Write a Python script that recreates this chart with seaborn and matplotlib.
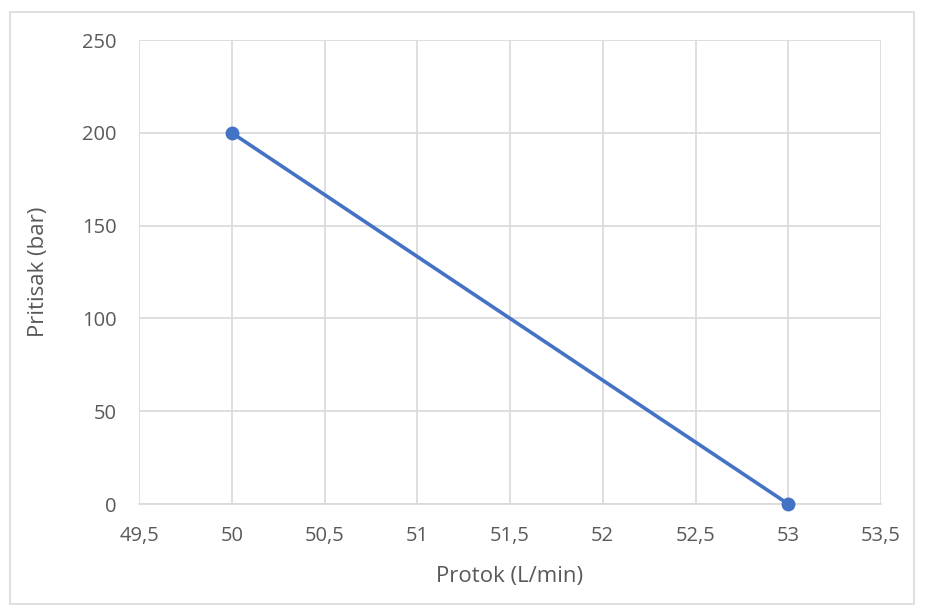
import matplotlib
matplotlib.use("Agg")
import matplotlib.pyplot as plt
import matplotlib.patches as patches
from matplotlib.ticker import FuncFormatter, MultipleLocator
import seaborn as sns
import pandas as pd

protok = [50, 53]
pritisak = [200, 0]
x_label = "Protok (L/min)"
y_label = "Pritisak (bar)"

sns.set_style("white")
plt.rcParams['font.family'] = ['Open Sans', 'DejaVu Sans']

df = pd.DataFrame({"x": protok, "y": pritisak})

fig = plt.figure(figsize=(9.25, 6.14), dpi=100)
ax = fig.add_axes([139/925, 1-504/614, (881-139)/925, (504-40)/614])

sns.lineplot(data=df, x="x", y="y", ax=ax, color="#4472C4", linewidth=2.6,
             marker="o", markersize=10, markeredgewidth=0, zorder=3)

ax.set_xlim(49.5, 53.5)
ax.set_ylim(0, 250)
ax.xaxis.set_major_locator(MultipleLocator(0.5))
ax.yaxis.set_major_locator(MultipleLocator(50))
fmt = FuncFormatter(lambda v, p: ("%g" % v).replace(".", ","))
ax.xaxis.set_major_formatter(fmt)
ax.yaxis.set_major_formatter(fmt)
ax.grid(True, color="#d9d9d9", linewidth=1.2)
for s in ["left", "right", "top"]:
    ax.spines[s].set_visible(False)
ax.spines["bottom"].set_color("#d9d9d9")
ax.spines["bottom"].set_linewidth(1.2)
ax.tick_params(axis="both", length=0, labelsize=14.5, colors="#595959")
ax.tick_params(axis="x", pad=16)
ax.tick_params(axis="y", pad=16)
ax.set_xlabel(x_label, fontsize=16, color="#595959", labelpad=14)
ax.set_ylabel(y_label, fontsize=16, color="#595959", labelpad=24)
ax.set_axisbelow(True)
for p in ax.lines:
    p.set_clip_on(False)

fig.patches.append(patches.Rectangle((10/925, 1-604/614), (914-10)/925, (604-12)/614,
                                     transform=fig.transFigure, fill=False,
                                     edgecolor="#d9d9d9", linewidth=1.2))

fig.savefig("out.png", dpi=100)
